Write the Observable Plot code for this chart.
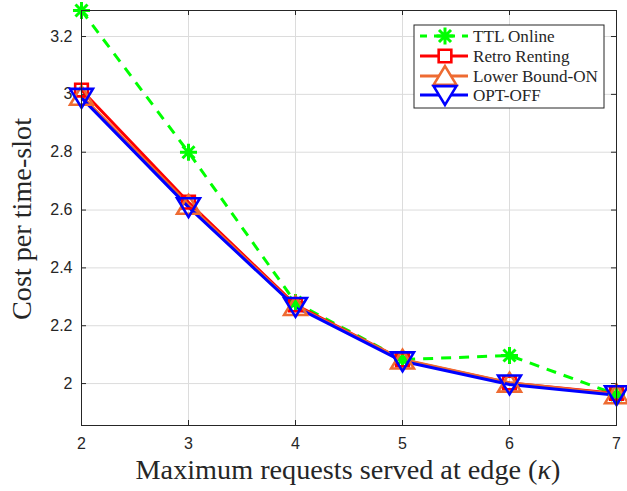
<!DOCTYPE html>
<html>
<head>
<meta charset="utf-8">
<script src="https://cdn.jsdelivr.net/npm/d3@7"></script>
<script src="https://cdn.jsdelivr.net/npm/@observablehq/plot@0.6"></script>
<style>
  html, body { margin: 0; padding: 0; background: #fff; }
  #chart { position: relative; width: 627px; height: 491px; }
</style>
</head>
<body>
<div id="chart"></div>
<script>
const kappa = [2, 3, 4, 5, 6, 7];
const ttlOnline   = [3.29, 2.80, 2.28, 2.083, 2.097, 1.962];
const retroRent   = [3.015, 2.627, 2.272, 2.082, 2.002, 1.966];
const lowerBound  = [2.995, 2.618, 2.268, 2.083, 2.003, 1.963];
const optOff      = [2.988, 2.610, 2.265, 2.077, 1.997, 1.960];
const xTicks = [2, 3, 4, 5, 6, 7];
const yTicks = [2, 2.2, 2.4, 2.6, 2.8, 3, 3.2];
const yTickLabels = ["2", "2.2", "2.4", "2.6", "2.8", "3", "3.2"];
const seriesNames = ["TTL Online", "Retro Renting", "Lower Bound-ON", "OPT-OFF"];
const seriesColors = ["#00ff00", "#ff0000", "#ee6b32", "#0000ff"];

const triDown = {
  draw(context, size) {
    const r = Math.sqrt(size / 1.3);
    const h = r * Math.sqrt(3) / 2;
    context.moveTo(0, h * 1.0);
    context.lineTo(r, -h * 0.9);
    context.lineTo(-r, -h * 0.9);
    context.closePath();
  }
};
const triUp = {
  draw(context, size) {
    const r = Math.sqrt(size / 1.3);
    const h = r * Math.sqrt(3) / 2;
    context.moveTo(0, -h * 1.0);
    context.lineTo(r, h * 0.9);
    context.lineTo(-r, h * 0.9);
    context.closePath();
  }
};
const star = {
  draw(context, size) {
    const r = Math.sqrt(size) / 2;
    for (let i = 0; i < 4; i++) {
      const a = i * Math.PI / 4;
      context.moveTo(-r * Math.cos(a), -r * Math.sin(a));
      context.lineTo(r * Math.cos(a), r * Math.sin(a));
    }
  }
};
const squareSym = {
  draw(context, size) {
    const s = Math.sqrt(size) / 2;
    context.rect(-s, -s, 2 * s, 2 * s);
  }
};
const symbols = [star, squareSym, triUp, triDown];
const symSizes = [290, 160, 170, 170];
const allValues = [ttlOnline, retroRent, lowerBound, optOff];

const rows = [];
allValues.forEach((vals, si) => vals.forEach((v, i) => rows.push({k: kappa[i], v, s: si})));
const bySeries = si => rows.filter(d => d.s === si);

const ymin = 1.855, ymax = 3.29;
const tickLen = (ymax - ymin) * 5 / 415;

const marks = [
  Plot.gridX(xTicks, {stroke: "#dcdcdc", strokeOpacity: 1}),
  Plot.gridY(yTicks, {stroke: "#dcdcdc", strokeOpacity: 1}),
  Plot.axisX(xTicks, {tickSize: 0, tickPadding: 12, fontSize: 16, fill: "#262626", fontFamily: "Liberation Sans, Arial, sans-serif", label: null}),
  Plot.axisY(yTicks, {tickSize: 0, tickPadding: 9, fontSize: 16, fill: "#262626", fontFamily: "Liberation Sans, Arial, sans-serif", label: null, tickFormat: (d) => yTickLabels[yTicks.indexOf(d)]}),
  Plot.ruleX(xTicks, {y1: ymin, y2: ymin + tickLen, stroke: "#262626"}),
  Plot.ruleX(xTicks, {y1: ymax, y2: ymax - tickLen, stroke: "#262626"}),
  Plot.ruleY(yTicks, {x1: 2, x2: 2 + 5 * 5 / 535, stroke: "#262626"}),
  Plot.ruleY(yTicks, {x1: 7, x2: 7 - 5 * 5 / 535, stroke: "#262626"}),
];

[0, 1, 2, 3].forEach(si => {
  marks.push(Plot.line(bySeries(si), {
    x: "k", y: "v", stroke: seriesColors[si], strokeWidth: 3,
    strokeDasharray: si === 0 ? "10,8" : null, strokeLinecap: "butt"
  }));
});
[0, 1, 2, 3].forEach(si => {
  marks.push(Plot.dot(bySeries(si), {
    x: "k", y: "v", symbol: () => symbols[si], r: Math.sqrt(symSizes[si] / Math.PI),
    stroke: seriesColors[si], strokeWidth: si === 0 ? 3 : 2.6, fill: "none"
  }));
});
marks.push(Plot.frame({stroke: "#262626", strokeWidth: 1}));

const plot = Plot.plot({
  width: 627,
  height: 491,
  marginLeft: 81,
  marginRight: 11,
  marginTop: 10,
  marginBottom: 66,
  x: {domain: [2, 7], label: null},
  y: {domain: [ymin, ymax], label: null},
  style: {background: "white", overflow: "visible"},
  marks
});
document.getElementById("chart").appendChild(plot);

const svg = d3.select(plot);
const serif = "Liberation Serif, DejaVu Serif, serif";
function fitText(sel, target) {
  const w = sel.node().getComputedTextLength();
  const fs = parseFloat(sel.attr("font-size"));
  if (w > 0) sel.attr("font-size", (fs * target / w).toFixed(2));
}
const xl = svg.append("text")
  .attr("x", 348).attr("y", 479)
  .attr("text-anchor", "middle")
  .attr("font-family", serif)
  .attr("font-size", 20).attr("fill", "#262626")
  .html('Maximum requests served at edge (<tspan font-style="italic">κ</tspan>)');
fitText(xl, 425);
const yl = svg.append("text")
  .attr("transform", "translate(31,219) rotate(-90)")
  .attr("text-anchor", "middle")
  .attr("font-family", serif)
  .attr("font-size", 20).attr("fill", "#262626")
  .text("Cost per time-slot");
fitText(yl, 202);

const lg = svg.append("g").attr("text-anchor", "start");
lg.append("rect").attr("x", 414).attr("y", 25).attr("width", 190).attr("height", 83)
  .attr("fill", "white").attr("stroke", "#262626").attr("stroke-width", 1);
const rowY = [36, 56, 76, 95];
const texts = [];
seriesNames.forEach((name, si) => {
  const y = rowY[si];
  lg.append("line").attr("x1", 420).attr("x2", 468).attr("y1", y).attr("y2", y)
    .attr("stroke", seriesColors[si]).attr("stroke-width", 3)
    .attr("stroke-dasharray", si === 0 ? "7,7" : null);
  const p = d3.path();
  symbols[si].draw(p, symSizes[si]);
  lg.append("path").attr("d", p.toString()).attr("transform", `translate(445,${y})`)
    .attr("fill", si === 0 ? "none" : "white").attr("stroke", seriesColors[si])
    .attr("stroke-width", si === 0 ? 3 : 2.6);
  texts.push(lg.append("text").attr("x", 473).attr("y", y).attr("dy", "0.35em")
    .attr("text-anchor", "start")
    .attr("font-family", serif)
    .attr("font-size", 15).attr("fill", "#262626").text(name));
});
{
  const w = texts[2].node().getComputedTextLength();
  const fs = 15 * 125 / (w || 125);
  texts.forEach(t => t.attr("font-size", fs.toFixed(2)));
}
</script>
</body>
</html>
